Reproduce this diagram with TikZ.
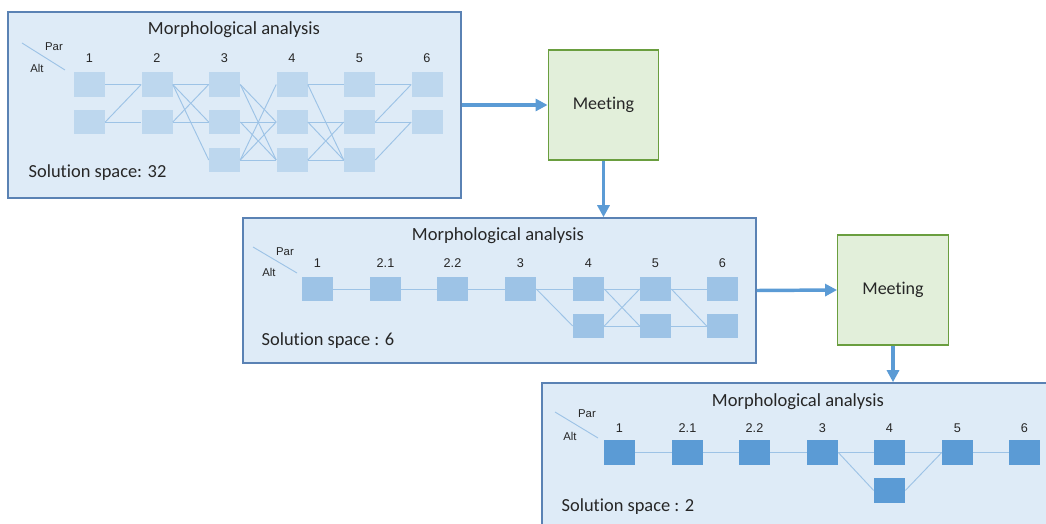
\documentclass[tikz,border=0pt]{standalone}
\usepackage{fontspec}
\setmainfont{Carlito}[Ligatures={NoCommon}]
\newfontfamily\arialf{Liberation Sans}
\usetikzlibrary{arrows.meta}
\definecolor{panelfill}{HTML}{DEEBF7}
\definecolor{paneldraw}{HTML}{5A82B4}
\definecolor{boxA}{HTML}{BDD7EE}
\definecolor{boxB}{HTML}{9DC3E6}
\definecolor{boxC}{HTML}{5B9BD5}
\definecolor{linkc}{HTML}{9DC3E6}
\definecolor{arrowc}{HTML}{5B9BD5}
\definecolor{meetfill}{HTML}{E2EFDA}
\definecolor{meetdraw}{HTML}{6A9E3F}
\definecolor{textc}{HTML}{262626}
\tikzset{
  panel/.style={draw=paneldraw, fill=panelfill, line width=1.2pt, inner sep=0pt},
  meetbox/.style={draw=meetdraw, fill=meetfill, line width=0.9pt, minimum width=83pt, minimum height=82.5pt, font=\fontsize{13.5}{15}\selectfont, text=textc},
  altbox/.style={inner sep=0pt, minimum width=23.25pt, minimum height=18.5pt},
  link/.style={draw=linkc, line width=0.7pt},
  flow/.style={draw=arrowc, line width=2.6pt, -{Triangle[length=9pt,width=9pt]}},
  title/.style={font=\fontsize{13.9}{16}\selectfont, text=textc},
  solution/.style={font=\fontsize{13.8}{16}\selectfont, text=textc, anchor=west},
  collabel/.style={font=\arialf\fontsize{9.5}{11}\selectfont, text=textc},
  paralt/.style={font=\arialf\fontsize{8.5}{10}\selectfont, text=textc},
  diag/.style={draw=linkc, line width=0.7pt}
}
\begin{document}
\begin{tikzpicture}[x=0.75pt, y=-0.75pt]
\useasboundingbox (0,0) rectangle (1046,524);
\clip (0,0) rectangle (1046,524);

% ---------- panels ----------
\node[panel, minimum width=339.75pt, minimum height=139.5pt] (p1) at (234.5,105) {};
\node[panel, minimum width=384.75pt, minimum height=108.75pt] (p2) at (499.5,290.5) {};
\node[panel, minimum width=384.75pt, minimum height=108.75pt] (p3) at (798.5,455.5) {};

% ---------- meetings ----------
\node[meetbox] (m1) at (603.5,105) {Meeting};
\node[meetbox] (m2) at (893,290) {Meeting};

% ---------- flow arrows ----------
\draw[flow] (p1.east) -- (m1.west);
\draw[flow] (m1.south) -- (m1.south |- p2.north);
\draw[flow] (p2.east) -- (m2.west);
\draw[flow] (m2.south) -- (m2.south |- p3.north);

% ---------- panel 1 ----------
\node[title] (t1) at (234,30) {Morphological analysis};
\node[solution] (s1) at (24,173) {Solution space: 32};
\node[paralt] (par1) at (54,47) {Par};
\node[paralt] (alt1) at (37,68) {Alt};
\coordinate (d1a) at (22,43);
\coordinate (d1b) at (65,70);
\draw[diag] (d1a) -- (d1b);
\foreach \c/\x/\n in {1/89.5/2, 2/157/2, 3/224.5/3, 4/292/3, 5/359.5/3, 6/427/2}{
  \node[collabel] (L1\c) at (\x,58) {\c};
  \foreach \r/\y in {1/84.5, 2/122, 3/160}{
    \ifnum\r>\n\relax\else
      \node[altbox, fill=boxA] (A\c\r) at (\x,\y) {};
    \fi
  }
}
\foreach \a/\b in {11/21, 12/21, 12/22, 21/31, 21/32, 21/33, 22/31, 22/32,
                   31/42, 31/43, 32/42, 32/43, 33/41, 33/42, 33/43,
                   41/51, 41/53, 42/52, 42/53, 43/52, 43/53,
                   51/61, 52/61, 52/62, 53/62}{
  \draw[link] (A\a.east) -- (A\b.west);
}

% ---------- panel 2 ----------
\node[title] (t2) at (498,236) {Morphological analysis};
\node[solution] (s2) at (257,341) {Solution space : 6};
\node[paralt] (par2) at (285,252) {Par};
\node[paralt] (alt2) at (269,272) {Alt};
\coordinate (d2a) at (253,247);
\coordinate (d2b) at (297,273);
\draw[diag] (d2a) -- (d2b);
\foreach \c/\x/\n/\t in {1/317.5/1/1, 2/385.5/1/2.1, 3/452.5/1/2.2, 4/520.5/1/3, 5/588.5/2/4, 6/655.5/2/5, 7/722.5/2/6}{
  \node[collabel] (L2\c) at (\x,263.5) {\t};
  \foreach \r/\y in {1/289, 2/326}{
    \ifnum\r>\n\relax\else
      \node[altbox, fill=boxB] (B\c\r) at (\x,\y) {};
    \fi
  }
}
\foreach \a/\b in {11/21, 21/31, 31/41, 41/51, 41/52, 51/61, 51/62, 52/61, 52/62, 61/71, 61/72, 62/72}{
  \draw[link] (B\a.east) -- (B\b.west);
}

% ---------- panel 3 ----------
\node[title] (t3) at (798,402) {Morphological analysis};
\node[solution] (s3) at (557,507) {Solution space : 2};
\node[paralt] (par3) at (587,414) {Par};
\node[paralt] (alt3) at (570,436) {Alt};
\coordinate (d3a) at (555,412);
\coordinate (d3b) at (598,438);
\draw[diag] (d3a) -- (d3b);
\foreach \c/\x/\n/\t in {1/619.5/1/1, 2/687.5/1/2.1, 3/754.5/1/2.2, 4/822.5/1/3, 5/889.5/2/4, 6/957.5/1/5, 7/1024.5/1/6}{
  \node[collabel] (L3\c) at (\x,428) {\t};
  \foreach \r/\y in {1/452.5, 2/490.5}{
    \ifnum\r>\n\relax\else
      \node[altbox, fill=boxC] (C\c\r) at (\x,\y) {};
    \fi
  }
}
\foreach \a/\b in {11/21, 21/31, 31/41, 41/51, 41/52, 51/61, 52/61, 61/71}{
  \draw[link] (C\a.east) -- (C\b.west);
}
\end{tikzpicture}
\end{document}
